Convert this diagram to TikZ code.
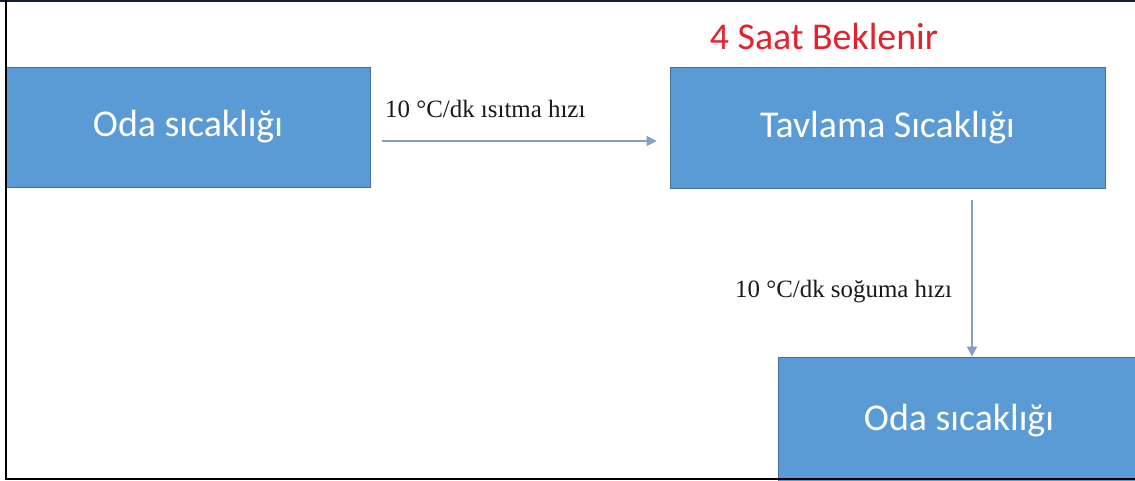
\documentclass[tikz,border=0pt]{standalone}
\usepackage{fontspec}
\setmainfont{Liberation Serif}
\newfontfamily\calib{Carlito}
\usetikzlibrary{arrows.meta}
\definecolor{boxfill}{RGB}{91,155,213}
\definecolor{boxline}{RGB}{65,113,156}
\definecolor{arrcol}{RGB}{130,160,198}
\definecolor{titlered}{RGB}{225,35,45}
\definecolor{frametop}{RGB}{20,30,55}
\tikzset{
  stepbox/.style={draw=boxline, line width=0.8bp, fill=boxfill, text=white,
    font=\calib\fontsize{38}{44}\selectfont, inner sep=0pt, anchor=center},
  arr/.style={draw=arrcol, line width=1.1bp, -{Triangle[length=10bp,width=10bp]}},
  lab/.style={font=\fontsize{25}{28}\selectfont, text=black!90, inner sep=0pt},
}
\begin{document}
\begin{tikzpicture}[x=1bp,y=1bp]
\useasboundingbox (0,0) rectangle (1135,481);
\fill[white] (0,0) rectangle (1135,481);
\begin{scope}
\clip (0,0) rectangle (1135,481);
\node[stepbox, minimum width=364bp, minimum height=120bp] (A) at (188,354) {Oda sıcaklığı};
\node[stepbox, minimum width=435bp, minimum height=121bp] (B) at (887.5,353.5) {Tavlama Sıcaklığı};
\node[stepbox, minimum width=362bp, minimum height=128bp] (C) at (959,60) {Oda sıcaklığı};
\node[font=\calib\fontsize{38}{44}\selectfont, text=titlered, anchor=base, inner sep=0pt] (T) at (824,431) {4 Saat Beklenir};
\draw[arr, shorten <=12bp, shorten >=13bp] ([yshift=-14bp]A.east) -- ([yshift=-14bp]A.east -| B.west);
\coordinate (bs) at ([xshift=84.5bp]B.south);
\draw[arr, shorten <=12bp] (bs) -- (bs |- C.north);
\node[lab, anchor=base west] (L1) at (385,363) {10 °C/dk ısıtma hızı};
\node[lab, anchor=base west] (L2) at (735,183) {10 °C/dk soğuma hızı};
\fill[frametop] (0,478.5) rectangle (1135,481);
\fill[black] (5,1) rectangle (7.3,481);
\fill[black] (5,1) rectangle (1135,3.2);
\end{scope}
\end{tikzpicture}
\end{document}
